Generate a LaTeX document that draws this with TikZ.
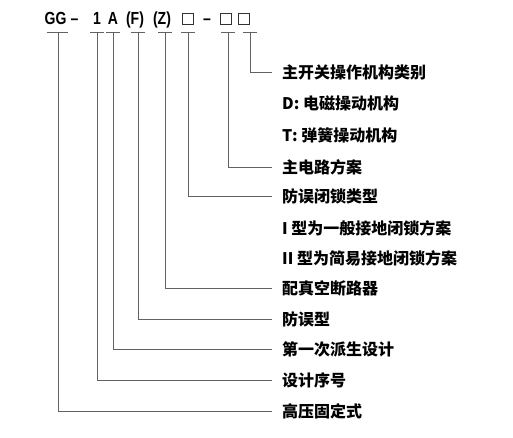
\documentclass[tikz,border=0pt]{standalone}
\usepackage{fontspec}
\setmainfont{Liberation Sans}
\newfontfamily\hdrfont[FakeStretch=0.8]{Liberation Sans}
\newfontfamily\cjk{Noto Sans CJK SC}
\begin{document}
\begin{tikzpicture}[x=1pt,y=-1pt,
  hdr/.style={inner sep=0pt,font=\hdrfont\bfseries\fontsize{17.5}{17.5}\selectfont},
  lbl/.style={anchor=west,inner ysep=0pt,inner xsep=10pt,font=\cjk\bfseries\fontsize{16}{16}\selectfont},
  ln/.style={draw=black!62,line width=0.9pt},
  sq/.style={draw=black!80,line width=1.1pt,minimum width=11pt,minimum height=11pt,inner sep=0pt}]
\useasboundingbox (0,0) rectangle (513,438);
% header
\node[hdr,anchor=base] (gg) at (55.5,25) {GG};
\node[hdr,anchor=base] (d1) at (74.5,25) {–};
\node[hdr,anchor=base] (n1) at (97,25) {1};
\node[hdr,anchor=base] (na) at (113,25) {A};
\node[hdr,anchor=base] (nf) at (135,25) {(F)};
\node[hdr,anchor=base] (nz) at (162,25) {(Z)};
\node[sq] (b1) at (188,19) {};
\node[hdr,anchor=base] (d2) at (207,25) {–};
\node[sq] (b2) at (226,19) {};
\node[sq] (b3) at (244,19) {};
% labels
\node[lbl] (t1) at (272,72) {主开关操作机构类别};
\node[lbl] (t1a) at (272,103) {D: 电磁操动机构};
\node[lbl] (t1b) at (272,135) {T: 弹簧操动机构};
\node[lbl] (t2) at (272,167) {主电路方案};
\node[lbl] (t3) at (272,196) {防误闭锁类型};
\node[lbl] (t3a) at (272,228) {I 型为一般接地闭锁方案};
\node[lbl] (t3b) at (272,258) {II 型为简易接地闭锁方案};
\node[lbl] (t4) at (272,288) {配真空断路器};
\node[lbl] (t5) at (272,319) {防误型};
\node[lbl] (t6) at (272,349) {第一次派生设计};
\node[lbl] (t7) at (272,380) {设计序号};
\node[lbl] (t8) at (272,411) {高压固定式};
% underline anchors
\coordinate (u8) at (58,32);
\coordinate (u7) at (97,32);
\coordinate (u6) at (113,32);
\coordinate (u5) at (138,32);
\coordinate (u4) at (165,32);
\coordinate (u3) at (188,32);
\coordinate (u2) at (228,32);
\coordinate (u1) at (250,32);
% underlines
\draw[ln] ([xshift=-11pt]u8) -- ([xshift=10pt]u8);
\foreach \u in {u7,u6,u5,u4,u3,u2,u1}{
  \draw[ln] ([xshift=-7pt]\u) -- ([xshift=7pt]\u);
}
% connectors
\draw[ln] (u1) |- (t1.west);
\draw[ln] (u2) |- (t2.west);
\draw[ln] (u3) |- (t3.west);
\draw[ln] (u4) |- (t4.west);
\draw[ln] (u5) |- (t5.west);
\draw[ln] (u6) |- (t6.west);
\draw[ln] (u7) |- (t7.west);
\draw[ln] (u8) |- (t8.west);
\end{tikzpicture}
\end{document}
